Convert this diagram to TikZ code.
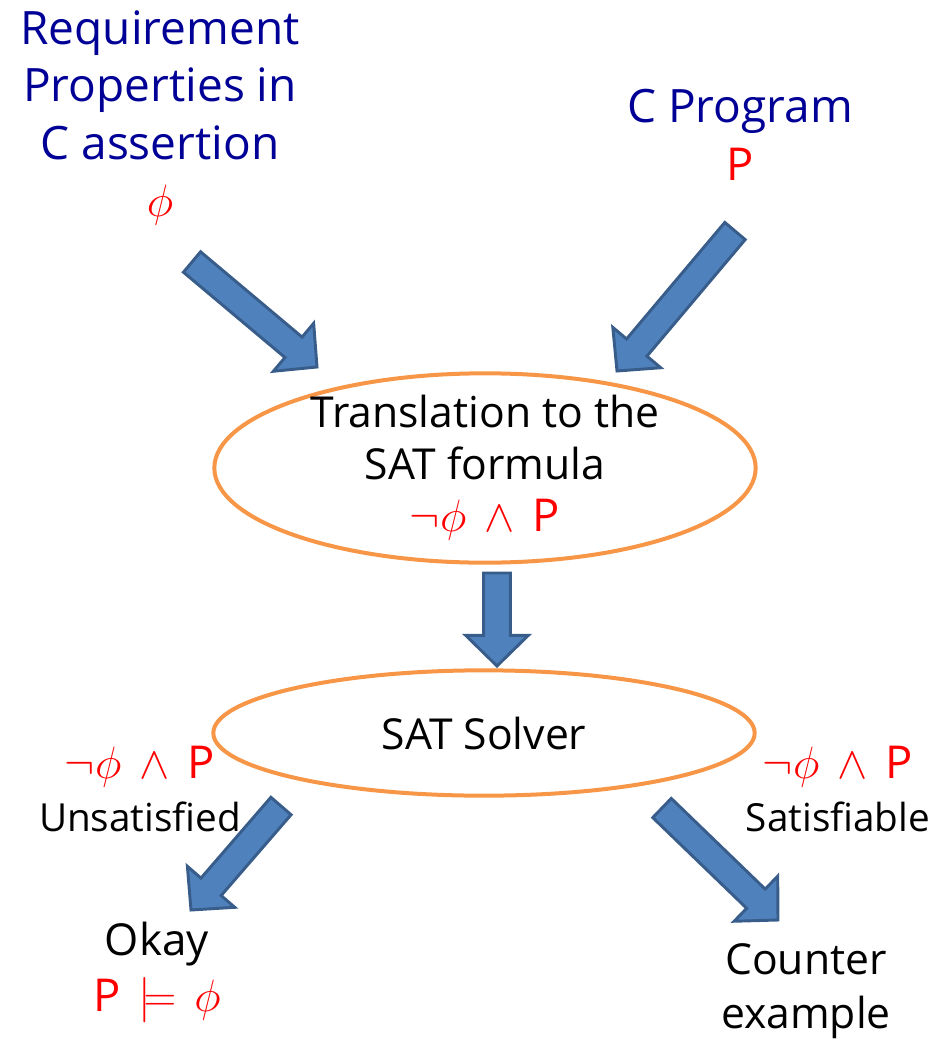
\RequirePackage{fix-cm}
\documentclass[tikz,border=0pt]{standalone}
\usepackage{fontspec}
\setmainfont{Open Sans}
\usetikzlibrary{calc,shapes.geometric}
\definecolor{softorange}{HTML}{F79646}
\definecolor{arrowblue}{HTML}{4F81BD}
\definecolor{arrowedge}{HTML}{385D8A}
\definecolor{titleblue}{RGB}{0,0,150}
% red formula, a bit larger than the text
\newcommand{\formula}[1]{{\color{red}\fontsize{34}{\the\baselineskip}\selectfont #1}}
\newcommand{\gap}{\hspace{0.4em}}
% block arrow from #1 (tail) to #2 (tip)
\newcommand{\fatarrow}[2]{%
  \path (#1) coordinate (fa-tail) (#2) coordinate (fa-tip)
    ($(fa-tip)!23pt!(fa-tail)$) coordinate (fa-base);
  \draw[fatarrow] ($(fa-tail)!10pt!90:(fa-tip)$) -- ($(fa-base)!10pt!-90:(fa-tail)$)
    -- ($(fa-base)!23.5pt!-90:(fa-tail)$) -- (fa-tip)
    -- ($(fa-base)!23.5pt!90:(fa-tail)$) -- ($(fa-base)!10pt!90:(fa-tail)$)
    -- ($(fa-tail)!10pt!-90:(fa-tip)$) -- cycle;}
\begin{document}
\begin{tikzpicture}[
    x=0.75pt, y=-0.75pt,
    every node/.style={font=\fontsize{32}{39}\selectfont, align=center, inner sep=0pt},
    title/.style={text=titleblue, font=\fontsize{34.5}{43}\selectfont},
    result/.style={font=\fontsize{29}{40}\selectfont},
    oval/.style={ellipse, draw=softorange, line width=3pt, inner sep=0pt},
    fatarrow/.style={fill=arrowblue, draw=arrowedge, line width=2.2pt, line join=miter}
  ]
    \useasboundingbox (0,0) rectangle (941,1039);

    % inputs
    \node[title] (req) at (160,118)
      {Requirement\\Properties in\\C assertion\\\formula{$\phi$}};
    \node[title] (prog) at (740,135) {C Program\\\formula{P}};

    % translation and solver
    \node[oval, minimum width=406pt, minimum height=142pt] (trans) at (485,468) {};
    \node (transtext) at (trans) {Translation to the\\SAT formula\\\formula{$\neg\phi$\gap$\wedge$\gap P}};
    \node[oval, minimum width=406pt, minimum height=94pt] (solver) at (484,733) {};
    \node (solvertext) at (solver) {SAT Solver};

    % results
    \node[result] (unsat) at (140,789) {\formula{$\neg\phi$\gap$\wedge$\gap P}\\Unsatisfied};
    \node[result] (sat) at (838,789) {\formula{$\neg\phi$\gap$\wedge$\gap P}\\Satisfiable};
    \node[font=\fontsize{33}{42}\selectfont] (okay) at (157,972) {Okay\\\formula{P\gap$\models$\gap$\phi$}};
    \node[font=\fontsize{32}{41}\selectfont] (counter) at (806,991) {Counter\\example};

    % block arrows
    \coordinate (reqout) at (192,262);
    \coordinate (reqin) at (317,367);
    \coordinate (progout) at (735,231);
    \coordinate (progin) at (617,371);
    \coordinate (transout) at (497,573);
    \coordinate (solverin) at (497,666);
    \coordinate (unsatout) at (281,806);
    \coordinate (okayin) at (191,910);
    \coordinate (satout) at (662,808);
    \coordinate (counterin) at (778,920);
    \fatarrow{reqout}{reqin}
    \fatarrow{progout}{progin}
    \fatarrow{transout}{solverin}
    \fatarrow{unsatout}{okayin}
    \fatarrow{satout}{counterin}
  \end{tikzpicture}
\end{document}
